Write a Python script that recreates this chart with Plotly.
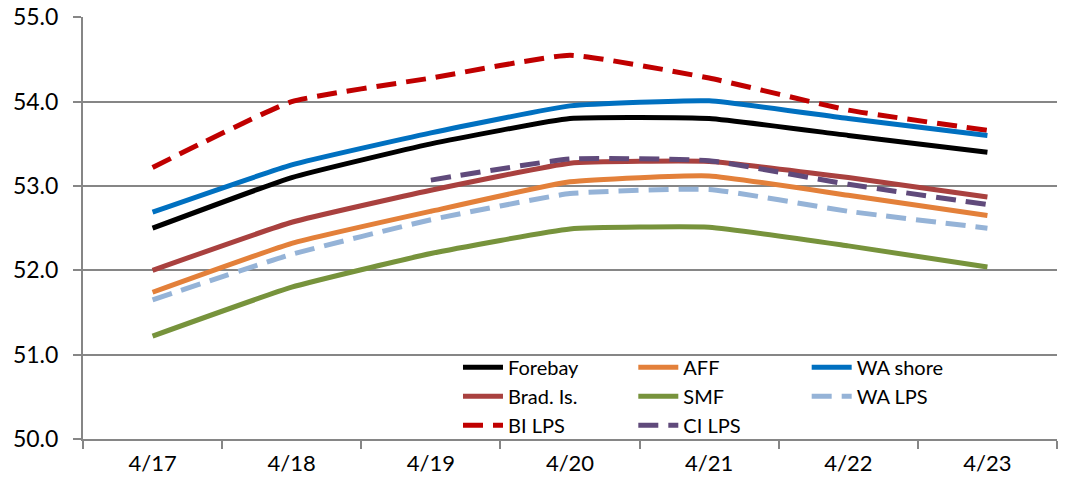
import plotly.graph_objects as go

dates = ["4/17", "4/18", "4/19", "4/20", "4/21", "4/22", "4/23"]
forebay = [52.5, 53.1, 53.5, 53.8, 53.8, 53.6, 53.4]
aff = [51.74, 52.32, 52.7, 53.05, 53.12, 52.89, 52.65]
wa_shore = [52.69, 53.25, 53.63, 53.95, 54.01, 53.8, 53.6]
brad_is = [52.0, 52.57, 52.95, 53.27, 53.29, 53.1, 52.87]
smf = [51.22, 51.8, 52.2, 52.49, 52.51, 52.29, 52.04]
wa_lps = [51.65, 52.19, 52.6, 52.91, 52.96, 52.7, 52.5]
bi_lps = [53.22, 54.0, 54.28, 54.55, 54.28, 53.9, 53.66]
ci_lps = [None, None, 53.07, 53.32, 53.3, 53.02, 52.78]

FONT = "Lato"

series = [
    ("Forebay", forebay, "#000000", "solid", "legend"),
    ("Brad. Is.", brad_is, "#A9413F", "solid", "legend"),
    ("BI LPS", bi_lps, "#C00000", "20px,10px", "legend"),
    ("AFF", aff, "#E3803A", "solid", "legend2"),
    ("SMF", smf, "#77933C", "solid", "legend2"),
    ("CI LPS", ci_lps, "#604A7B", "20px,10px", "legend2"),
    ("WA shore", wa_shore, "#0070C0", "solid", "legend3"),
    ("WA LPS", wa_lps, "#95B3D7", "20px,10px", "legend3"),
]

fig = go.Figure()
for name, vals, color, dash, leg in series:
    fig.add_trace(go.Scatter(
        x=dates, y=vals, name=name, mode="lines",
        line=dict(color=color, width=5, dash=dash, shape="spline", smoothing=0.4),
        legend=leg,
    ))

legend_common = dict(
    bgcolor="rgba(255,255,255,0)",
    font=dict(family=FONT, size=20, color="#000000"),
    orientation="v",
    yanchor="top",
    y=0.216,
    xanchor="left",
    tracegroupgap=0,
    itemwidth=40,
)

fig.update_layout(
    width=1068, height=488,
    margin=dict(l=83, r=11, t=17, b=49),
    paper_bgcolor="white",
    plot_bgcolor="white",
    font=dict(family=FONT, size=20, color="#000000"),
    legend=dict(x=0.385, **legend_common),
    legend2=dict(x=0.565, **legend_common),
    legend3=dict(x=0.743, **legend_common),
    xaxis=dict(
        type="category",
        range=[-0.5, 6.5],
        automargin=False,
        showgrid=False,
        showline=True, linecolor="#868686", linewidth=2,
        ticks="outside", tickson="boundaries", ticklen=8, tickwidth=2, tickcolor="#868686",
        ticklabelstandoff=4,
        tickfont=dict(family=FONT, size=22, color="#000000"),
        fixedrange=True,
    ),
    yaxis=dict(
        range=[50, 55.004], dtick=1, tickformat=".1f",
        automargin=False,
        ticklabeloverflow="allow",
        showgrid=True, gridcolor="#868686", gridwidth=2,
        showline=True, linecolor="#868686", linewidth=2,
        ticks="outside", ticklen=8, tickwidth=2, tickcolor="#868686",
        ticklabelstandoff=10,
        tickfont=dict(family=FONT, size=23, color="#000000"),
        zeroline=False,
    ),
)

fig.write_html(
    "out.html",
    config={"displayModeBar": False},
    post_script="document.body.style.margin='0';document.body.style.padding='0';",
)
